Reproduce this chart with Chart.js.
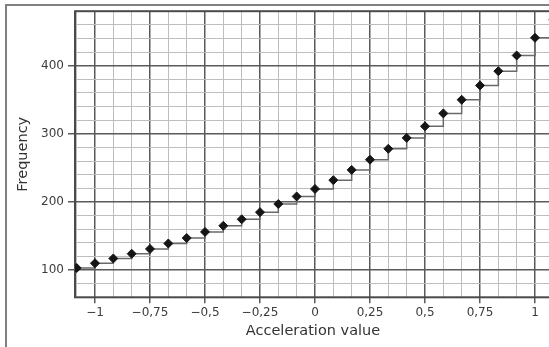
<!DOCTYPE html>
<html>
<head>
<meta charset="utf-8">
<script src="https://cdn.jsdelivr.net/npm/chart.js@4"></script>
<style>
  html, body { margin: 0; padding: 0; background: #fff; overflow: hidden; width: 549px; height: 347px; }
  #frame { position: absolute; left: 5px; top: 4px; width: 700px; height: 500px; border-left: 2px solid #808080; border-top: 2px solid #808080; }
  #myChart { position: absolute; left: 0; top: 0; }
</style>
</head>
<body>
<div id="frame"></div>
<canvas id="myChart" width="552" height="347"></canvas>
<script>
// x positions of the steps (also the minor grid lines)
const xValues = [-1.0833, -1.0, -0.9167, -0.8333, -0.75, -0.6667, -0.5833, -0.5, -0.4167,
    -0.3333, -0.25, -0.1667, -0.0833, 0, 0.0833, 0.1667, 0.25, 0.3333, 0.4167,
    0.5, 0.5833, 0.6667, 0.75, 0.8333, 0.9167, 1.0, 1.0833];
// frequency (last one is off the right edge)
const freqValues = [103, 110, 117, 124, 131, 139, 147, 156, 165,
    174.5, 185, 197, 208, 219, 232, 247, 262, 278, 294,
    311, 330, 350, 371, 392, 415, 441, 468];

const xTickValues = [-1, -0.75, -0.5, -0.25, 0, 0.25, 0.5, 0.75, 1];
const xTickLabels = ["\u22121", "\u22120,75", "\u22120,5", "\u22120,25", "0", "0,25", "0,5", "0,75", "1"];
const yTickValues = [100, 200, 300, 400];
const yTickLabels = ["100", "200", "300", "400"];

const xMin = -1.0909;
const xMax = 1.0727;

function xMajorIndex(v) {
    return xTickValues.findIndex((t) => Math.abs(t - v) < 0.001);
}
function yMajorIndex(v) {
    return yTickValues.findIndex((t) => Math.abs(t - v) < 0.001);
}

const points = xValues.map((x, i) => ({ x: x, y: freqValues[i] }));

const framePlugin = {
    id: "plotFrame",
    beforeDatasetsDraw(chart) {
        const a = chart.chartArea;
        const ctx = chart.ctx;
        ctx.save();
        ctx.strokeStyle = "#4a4a4a";
        ctx.lineWidth = 2;
        ctx.strokeRect(a.left, a.top, a.right - a.left, a.bottom - a.top);
        ctx.restore();
    },
};

const ctx = document.getElementById("myChart");
new Chart(ctx, {
    type: "line",
    data: {
        datasets: [
            {
                label: "Frequency",
                data: points,
                stepped: "before",
                borderColor: "#6a6a6a",
                borderWidth: 1.5,
                pointStyle: "rectRot",
                pointRadius: 4.5,
                pointBackgroundColor: "#151515",
                pointBorderColor: "#151515",
                pointBorderWidth: 1,
                fill: false,
            },
        ],
    },
    options: {
        responsive: false,
        animation: false,
        devicePixelRatio: 1,
        layout: { autoPadding: false, padding: { left: 11, top: 9, right: 1, bottom: 3 } },
        plugins: {
            legend: { display: false },
            tooltip: { enabled: false },
        },
        scales: {
            x: {
                type: "linear",
                min: xMin,
                max: xMax,
                afterBuildTicks: (scale) => {
                    scale.ticks = xValues.filter((v) => v >= xMin && v <= xMax).map((v) => ({ value: v }));
                },
                afterFit: (scale) => {
                    scale.height = 46.7;
                    scale.paddingLeft = 0;
                    scale.paddingRight = 0;
                },
                border: { display: false },
                grid: {
                    color: (c) => (c.tick && xMajorIndex(c.tick.value) >= 0 ? "#5a5a5a" : "#bdbdbd"),
                    lineWidth: (c) => (c.tick && xMajorIndex(c.tick.value) >= 0 ? 1.5 : 1),
                    tickColor: (c) => (c.tick && xMajorIndex(c.tick.value) >= 0 ? "#5a5a5a" : "transparent"),
                    tickLength: 6,
                },
                ticks: {
                    autoSkip: false,
                    maxRotation: 0,
                    padding: 2,
                    color: "#3c3c3c",
                    font: { family: "DejaVu Sans", size: 12 },
                    callback: (v) => {
                        const i = xMajorIndex(v);
                        return i >= 0 ? xTickLabels[i] : "";
                    },
                },
                title: {
                    display: true,
                    text: "Acceleration value",
                    color: "#333",
                    font: { family: "DejaVu Sans", size: 14.5 },
                },
            },
            y: {
                type: "linear",
                min: 60,
                max: 480,
                afterFit: (scale) => {
                    scale.width = 64;
                },
                border: { display: false },
                grid: {
                    color: (c) => (c.tick && yMajorIndex(c.tick.value) >= 0 ? "#5a5a5a" : "#bdbdbd"),
                    lineWidth: (c) => (c.tick && yMajorIndex(c.tick.value) >= 0 ? 1.5 : 1),
                    tickColor: (c) => (c.tick && yMajorIndex(c.tick.value) >= 0 ? "#5a5a5a" : "transparent"),
                    tickLength: 7,
                },
                ticks: {
                    stepSize: 20,
                    autoSkip: false,
                    padding: 4,
                    color: "#3c3c3c",
                    font: { family: "DejaVu Sans", size: 12 },
                    callback: (v) => {
                        const i = yMajorIndex(v);
                        return i >= 0 ? yTickLabels[i] : "";
                    },
                },
                title: {
                    display: true,
                    text: "Frequency",
                    color: "#333",
                    font: { family: "DejaVu Sans", size: 14.5 },
                },
            },
        },
    },
    plugins: [framePlugin],
});
</script>
</body>
</html>
